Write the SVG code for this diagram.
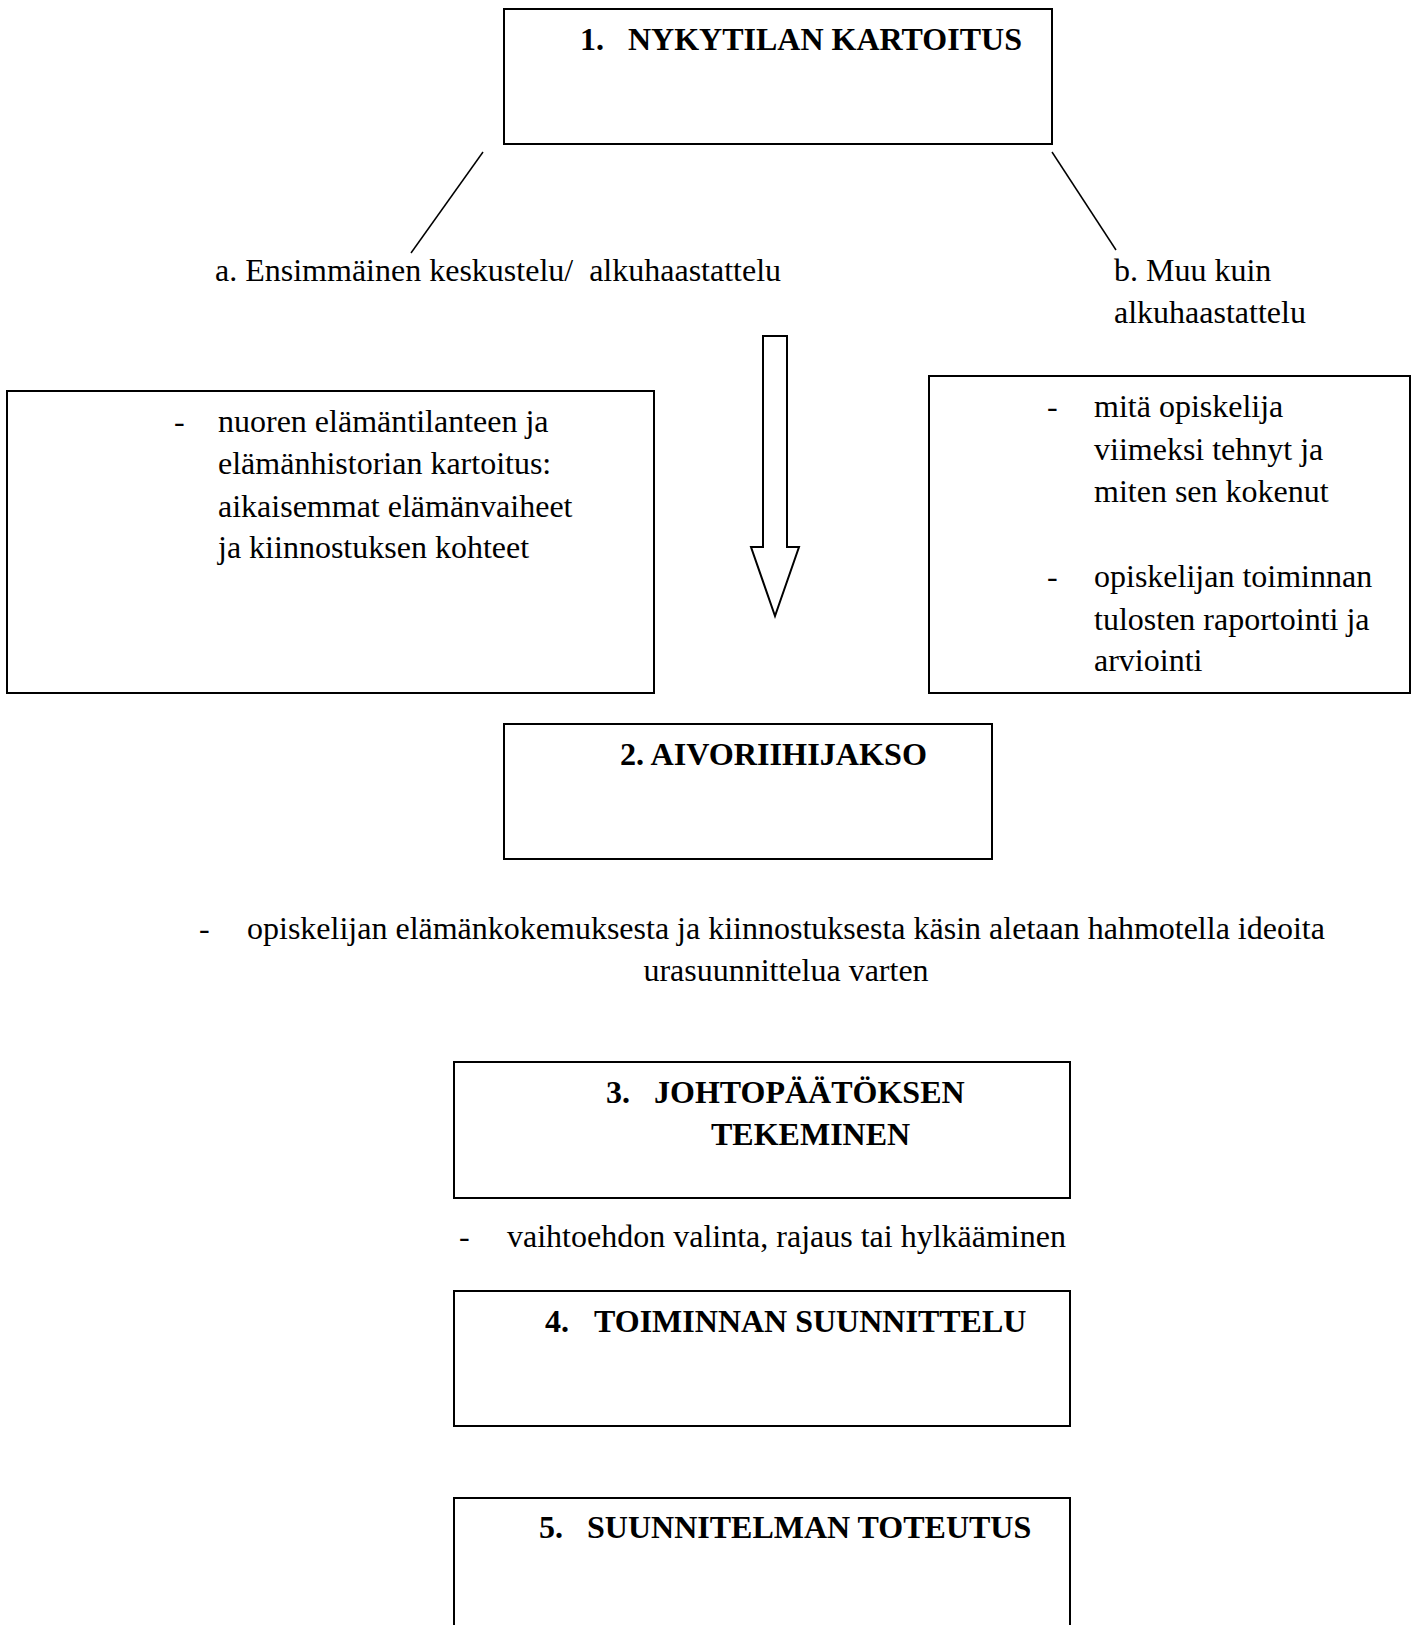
<svg xmlns="http://www.w3.org/2000/svg" width="1415" height="1625" viewBox="0 0 1415 1625">
<style>
  .box { fill: #ffffff; stroke: #000000; stroke-width: 2; }
  .ln { fill: none; stroke: #000000; stroke-width: 1.5; }
  .arr { fill: #ffffff; stroke: #000000; stroke-width: 2; stroke-linejoin: miter; }
  text { font-family: "Liberation Serif", "Times New Roman", serif; font-size: 32px; fill: #000000; white-space: pre; }
  .b { font-weight: bold; }
</style>
<rect x="0" y="0" width="1415" height="1625" fill="#ffffff"/>

<g id="connectors">
  <line class="ln" x1="483" y1="152" x2="411" y2="253"/>
  <line class="ln" x1="1052" y1="152" x2="1116" y2="250"/>
  <path class="arr" d="M763,336 L787,336 L787,547 L799,547 L775,616 L751,547 L763,547 Z"/>
</g>

<g id="node1">
  <rect class="box" x="504" y="9" width="548" height="135"/>
  <text class="b" x="580" y="50">1.</text>
  <text class="b" x="628" y="50">NYKYTILAN KARTOITUS</text>
</g>

<g id="labelA">
  <text x="215" y="281">a. Ensimmäinen keskustelu/  alkuhaastattelu</text>
</g>

<g id="labelB">
  <text x="1114" y="281">b. Muu kuin</text>
  <text x="1114" y="323">alkuhaastattelu</text>
</g>

<g id="nodeLeft">
  <rect class="box" x="7" y="391" width="647" height="302"/>
  <text x="174" y="432">-</text>
  <text x="218" y="432">nuoren elämäntilanteen ja</text>
  <text x="218" y="474">elämänhistorian kartoitus:</text>
  <text x="218" y="517">aikaisemmat elämänvaiheet</text>
  <text x="218" y="558">ja kiinnostuksen kohteet</text>
</g>

<g id="nodeRight">
  <rect class="box" x="929" y="376" width="481" height="317"/>
  <text x="1047" y="417">-</text>
  <text x="1094" y="417">mitä opiskelija</text>
  <text x="1094" y="460">viimeksi tehnyt ja</text>
  <text x="1094" y="502">miten sen kokenut</text>
  <text x="1047" y="587">-</text>
  <text x="1094" y="587">opiskelijan toiminnan</text>
  <text x="1094" y="630">tulosten raportointi ja</text>
  <text x="1094" y="671">arviointi</text>
</g>

<g id="node2">
  <rect class="box" x="504" y="724" width="488" height="135"/>
  <text class="b" x="620" y="765" textLength="307" lengthAdjust="spacingAndGlyphs">2. AIVORIIHIJAKSO</text>
</g>

<g id="text2">
  <text x="199" y="939">-</text>
  <text x="247" y="939">opiskelijan elämänkokemuksesta ja kiinnostuksesta käsin aletaan hahmotella ideoita</text>
  <text x="786" y="981" text-anchor="middle">urasuunnittelua varten</text>
</g>

<g id="node3">
  <rect class="box" x="454" y="1062" width="616" height="136"/>
  <text class="b" x="606" y="1103">3.</text>
  <text class="b" x="654" y="1103">JOHTOPÄÄTÖKSEN</text>
  <text class="b" x="711" y="1145">TEKEMINEN</text>
</g>

<g id="text3">
  <text x="459" y="1247">-</text>
  <text x="507" y="1247">vaihtoehdon valinta, rajaus tai hylkääminen</text>
</g>

<g id="node4">
  <rect class="box" x="454" y="1291" width="616" height="135"/>
  <text class="b" x="545" y="1332">4.</text>
  <text class="b" x="594" y="1332">TOIMINNAN SUUNNITTELU</text>
</g>

<g id="node5">
  <rect class="box" x="454" y="1498" width="616" height="140"/>
  <text class="b" x="539" y="1538">5.</text>
  <text class="b" x="587" y="1538">SUUNNITELMAN TOTEUTUS</text>
</g>
</svg>
